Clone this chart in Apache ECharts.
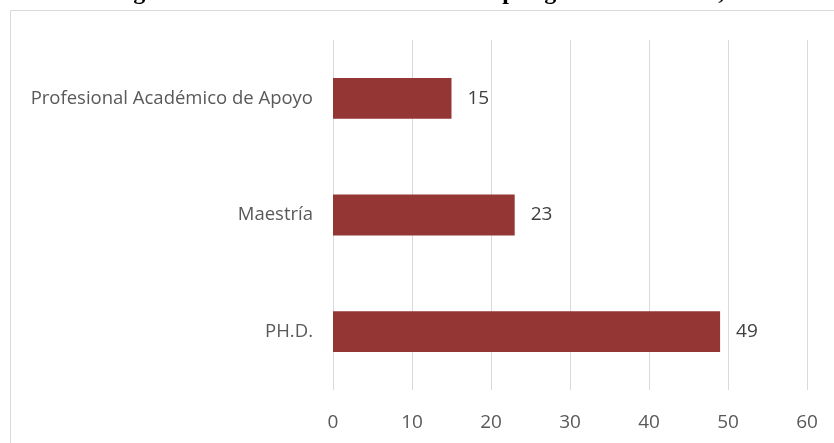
<!DOCTYPE html>
<html><head><meta charset="utf-8">
<script src="https://cdn.jsdelivr.net/npm/echarts@6/dist/echarts.min.js"></script>
<style>html,body{margin:0;padding:0;background:#fff}#c{width:834px;height:443px}</style>
</head><body><div id="c"></div>
<script>
const categories = ['PH.D.', 'Maestría', 'Profesional Académico de Apoyo'];
const values = [49, 23, 15];
const xTicks = [0, 10, 20, 30, 40, 50, 60];
const titleText = 'Figura N° 5. Distribución de docentes por grado académico, 2019';

const chart = echarts.init(document.getElementById('c'));
chart.setOption({
  animation: false,
  backgroundColor: '#fff',
  graphic: [
    {type: 'rect', shape: {x: 10.5, y: 10.5, width: 900, height: 600}, style: {fill: 'none', stroke: '#d9d9d9', lineWidth: 1}, z: 0},
    {type: 'text', left: 112, top: -19, style: {text: titleText, font: 'bold 24px "Liberation Serif"', fill: '#000'}}
  ],
  grid: {left: 333, right: 27, top: 40, bottom: 53, containLabel: false},
  xAxis: {
    type: 'value', min: xTicks[0], max: xTicks[xTicks.length - 1], interval: 10,
    axisLine: {show: false}, axisTick: {show: false},
    splitLine: {show: true, lineStyle: {color: '#d9d9d9', width: 1}},
    axisLabel: {color: '#595959', fontSize: 19, fontFamily: 'Open Sans', margin: 23}
  },
  yAxis: {
    type: 'category', data: categories,
    axisLine: {show: false}, axisTick: {show: false},
    axisLabel: {color: '#595959', fontSize: 18.5, fontFamily: 'Open Sans', margin: 20}
  },
  series: [{
    type: 'bar', data: values, barCategoryGap: '65%',
    itemStyle: {color: '#943634'},
    label: {show: true, position: 'right', distance: 16, color: '#404040', fontSize: 19, fontFamily: 'Open Sans'}
  }]
});
</script></body></html>
